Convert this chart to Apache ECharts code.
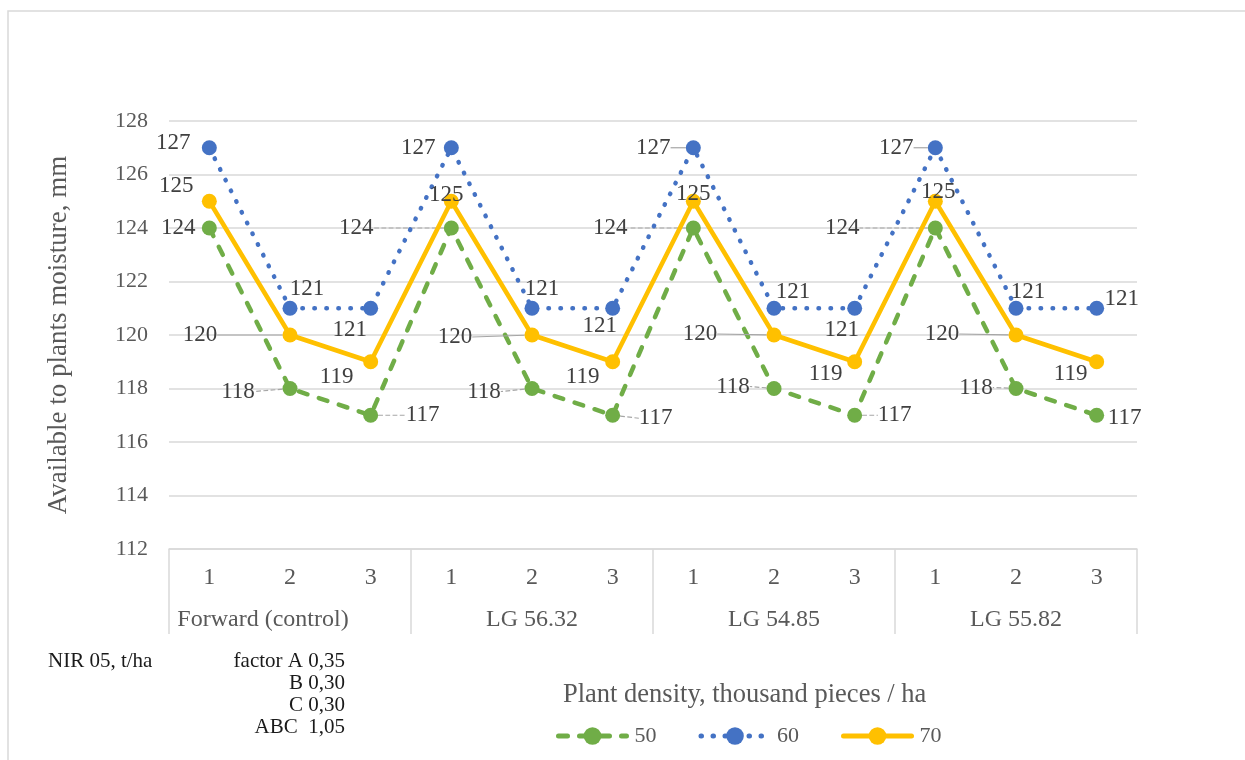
<!DOCTYPE html>
<html>
<head>
<meta charset="utf-8">
<script src="https://cdn.jsdelivr.net/npm/echarts@6/dist/echarts.min.js"></script>
<style>
  html, body { margin: 0; padding: 0; background: #fff; }
  #chart { width: 1245px; height: 760px; }
</style>
</head>
<body>
<div id="chart"></div>
<script>
// Hybrids and sowing positions on the category axis
const hybrids = ['Forward (control)', 'LG 56.32', 'LG 54.85', 'LG 55.82'];
const positions = ['1', '2', '3'];

// Available moisture, mm, per plant density (thousand pieces / ha)
const seriesNames = ['50', '60', '70'];
const density50 = [124, 118, 117, 124, 118, 117, 124, 118, 117, 124, 118, 117];
const density60 = [127, 121, 121, 127, 121, 121, 127, 121, 121, 127, 121, 121];
const density70 = [125, 120, 119, 125, 120, 119, 125, 120, 119, 125, 120, 119];

// Value axis range
const yMin = 112, yMax = 128, yStep = 2;

// Least significant difference notes
const nirTitle = 'NIR 05, t/ha';
const nirRows = ['factor A 0,35', 'B 0,30', 'C 0,30', 'ABC  1,05'];

const legendTitle = 'Plant density, thousand pieces / ha';
const yName = 'Available to plants moisture, mm';

// Label offsets from each point: [dx, dy, draw leader line]
const labelShift = [
  [[-31, 0, 0], [-52, 3, 1], [52, 0, 1], [-95, 0, 1], [-48, 3, 1], [43, 3, 1],
   [-83, 0, 1], [-41, -2, 1], [40, 0, 1], [-93, 0, 1], [-40, -1, 1], [28, 3, 0]],
  [[-36, -5, 0], [17, -19, 0], [-21, 22, 0], [-33, 0, 0], [10, -19, 0], [-13, 18, 0],
   [-40, 0, 1], [19, -16, 0], [-13, 22, 0], [-39, 0, 1], [12, -16, 0], [25, -9, 0]],
  [[-33, -15, 0], [-90, 0, 1], [-34, 15, 0], [-5, -6, 0], [-77, 2, 1], [-30, 15, 0],
   [0, -7, 0], [-74, -1, 1], [-29, 12, 0], [3, -9, 0], [-74, -1, 1], [-26, 12, 0]]
];

const FONT = '"Liberation Serif", "Times New Roman", serif';
const xLabels = hybrids.flatMap(() => positions);

const colors = ['#70AD47', '#4472C4', '#FFC000'];
const lineTypes = [[9, 12], [0.5, 11.5], 'solid'];
const leaderTypes = ['dashed', 'solid', 'solid'];
const values = [density50, density60, density70];

function makeSeries(i) {
  return {
    name: seriesNames[i],
    type: 'line',
    data: values[i].map((v, k) => ({
      value: v,
      labelLine: { show: !!labelShift[i][k][2] }
    })),
    symbol: 'circle',
    symbolSize: 15,
    color: colors[i],
    itemStyle: { color: colors[i] },
    lineStyle: { color: colors[i], width: 4.5, type: lineTypes[i], cap: 'round' },
    label: {
      show: true,
      position: 'inside',
      fontFamily: FONT,
      fontSize: 23,
      color: '#404040'
    },
    labelLine: {
      show: false,
      lineStyle: { color: '#a6a6a6', width: 1.2, type: leaderTypes[i] }
    },
    labelLayout: function (p) {
      const s = labelShift[p.seriesIndex][p.dataIndex];
      return { dx: s[0], dy: s[1] };
    },
    emphasis: { disabled: true },
    z: 2 + i
  };
}

const chart = echarts.init(document.getElementById('chart'), null, { renderer: 'canvas' });

const groupLabelStyle = { fontFamily: FONT, fontSize: 24, color: '#595959' };

chart.setOption({
  animation: false,
  backgroundColor: '#ffffff',
  textStyle: { fontFamily: FONT },
  grid: { left: 169, right: 108, top: 121, bottom: 211, containLabel: false },
  title: {
    text: legendTitle,
    left: 558,
    top: 677,
    textStyle: { fontFamily: FONT, fontSize: 26.5, fontWeight: 'normal', color: '#595959' }
  },
  legend: {
    data: seriesNames,
    left: 551,
    top: 720,
    itemWidth: 68,
    itemHeight: 22,
    itemGap: 42,
    lineStyle: { width: 5 },
    textStyle: { fontFamily: FONT, fontSize: 22, color: '#595959', padding: [0, 0, 0, 3] }
  },
  xAxis: [
    {
      type: 'category',
      data: xLabels,
      boundaryGap: true,
      axisLine: { show: true, lineStyle: { color: '#d9d9d9', width: 1.5 } },
      axisTick: { show: false },
      axisLabel: { fontFamily: FONT, fontSize: 24, color: '#595959', margin: 17, interval: 0 },
      splitLine: { show: false }
    },
    {
      type: 'category',
      data: hybrids,
      position: 'bottom',
      boundaryGap: true,
      axisLine: { show: false },
      axisTick: { show: true, length: 85, lineStyle: { color: '#d9d9d9', width: 1.5 } },
      axisLabel: {
        fontFamily: FONT, fontSize: 24, color: '#595959', margin: 59, interval: 0,
        // the control hybrid's name sits a little left of its group centre
        formatter: (v, idx) => idx === 0 ? '{lead|' + v + '}' : v,
        rich: { lead: Object.assign({ padding: [0, 54, 0, 0] }, groupLabelStyle) }
      },
      splitLine: { show: false }
    }
  ],
  yAxis: {
    type: 'value',
    min: yMin,
    max: yMax,
    interval: yStep,
    name: yName,
    nameLocation: 'middle',
    nameGap: 97,
    nameTextStyle: { fontFamily: FONT, fontSize: 27, color: '#595959' },
    axisLine: { show: false },
    axisTick: { show: false },
    axisLabel: { fontFamily: FONT, fontSize: 22, color: '#595959', margin: 21 },
    splitLine: { lineStyle: { color: '#d9d9d9', width: 1.5 } }
  },
  series: [0, 1, 2].map(makeSeries),
  graphic: [
    {
      type: 'rect',
      shape: { x: 8, y: 11, width: 1300, height: 800 },
      style: { fill: null, stroke: '#d9d9d9', lineWidth: 1.5 },
      silent: true,
      z: -1
    },
    {
      type: 'text',
      left: 48,
      top: 651,
      style: { text: nirTitle, font: '21px ' + FONT, fill: '#1a1a1a' }
    },
    {
      type: 'group',
      right: 1245 - 345,
      top: 651,
      children: nirRows.map((t, k) => ({
        type: 'text',
        x: 0,
        y: k * 22,
        style: { text: t, font: '21px ' + FONT, fill: '#1a1a1a', align: 'right' }
      }))
    }
  ]
});
</script>
</body>
</html>
